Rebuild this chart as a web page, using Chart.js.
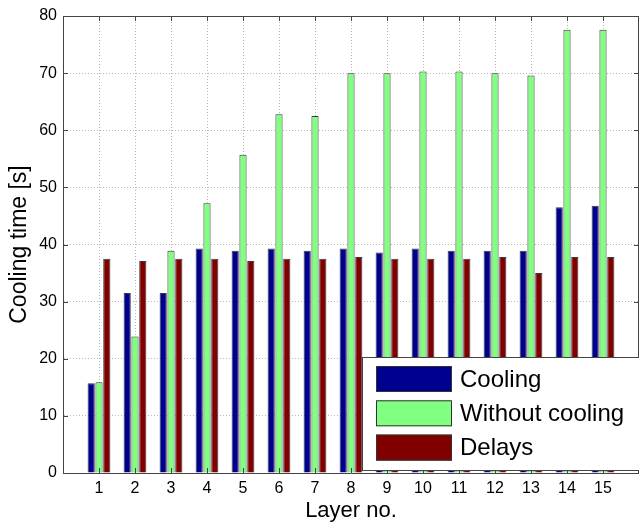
<!DOCTYPE html>
<html>
<head>
<meta charset="utf-8">
<script src="https://cdn.jsdelivr.net/npm/chart.js@4"></script>
<style>
html,body{margin:0;padding:0;background:#fff;overflow:hidden;}
#wrap{width:645px;height:526px;}
</style>
</head>
<body>
<div id="wrap"><canvas id="c" width="645" height="526"></canvas></div>
<script>
const layers = [1, 2, 3, 4, 5, 6, 7, 8, 9, 10, 11, 12, 13, 14, 15];
const cooling = [15.7, 31.5, 31.5, 39.3, 38.9, 39.3, 38.9, 39.3, 38.6, 39.3, 38.9, 38.9, 38.9, 46.5, 46.8];
const withoutCooling = [15.9, 23.9, 38.9, 47.2, 55.7, 62.8, 62.5, 70.0, 70.0, 70.3, 70.3, 70.0, 69.6, 77.6, 77.6];
const delays = [37.5, 37.1, 37.5, 37.5, 37.1, 37.5, 37.5, 37.8, 37.5, 37.5, 37.5, 37.8, 35.0, 37.8, 37.8];
const seriesNames = ['Cooling', 'Without cooling', 'Delays'];
const seriesColors = ['#00008F', '#80FF80', '#800000'];
const yTicks = [0, 10, 20, 30, 40, 50, 60, 70, 80];

const FONT = "'Liberation Sans', Arial, sans-serif";
const AXIS_COLOR = '#444';
const GRID_COLOR = '#b8b8b8';

function pts(vals) { return layers.map((l, i) => ({x: l, y: vals[i]})); }

const frame = {
  id: 'frame',
  afterDatasetsDraw(chart) {
    const {ctx, chartArea: a, scales: {x, y}} = chart;
    ctx.save();
    ctx.strokeStyle = AXIS_COLOR;
    ctx.lineWidth = 1;
    ctx.beginPath();
    ctx.moveTo(a.left, a.top + 0.5); ctx.lineTo(a.right, a.top + 0.5);
    ctx.moveTo(a.right - 0.5, a.top); ctx.lineTo(a.right - 0.5, a.bottom);
    const tl = 5;
    layers.forEach(v => {
      const px = Math.round(x.getPixelForValue(v)) + 0.5;
      ctx.moveTo(px, a.top); ctx.lineTo(px, a.top + tl);
      ctx.moveTo(px, a.bottom); ctx.lineTo(px, a.bottom - tl);
    });
    yTicks.forEach(v => {
      const py = Math.round(y.getPixelForValue(v)) + 0.5;
      ctx.moveTo(a.left, py); ctx.lineTo(a.left + tl, py);
      ctx.moveTo(a.right, py); ctx.lineTo(a.right - tl, py);
    });
    ctx.stroke();
    ctx.restore();
  }
};

const boxLegend = {
  id: 'boxLegend',
  afterDraw(chart, args, o) {
    const ctx = chart.ctx;
    ctx.save();
    ctx.fillStyle = '#fff';
    ctx.fillRect(o.left, o.top, o.width, o.height);
    ctx.strokeStyle = AXIS_COLOR;
    ctx.lineWidth = 1;
    ctx.strokeRect(o.left + 0.5, o.top + 0.5, o.width - 1, o.height - 1);
    ctx.font = o.fontSize + 'px ' + FONT;
    ctx.textBaseline = 'middle';
    ctx.textAlign = 'left';
    chart.data.datasets.forEach((ds, i) => {
      const sy = o.top + o.firstRow + i * o.rowPitch;
      ctx.fillStyle = ds.backgroundColor;
      ctx.fillRect(o.swatchX, sy, o.swatchW, o.swatchH);
      ctx.strokeStyle = '#333';
      ctx.strokeRect(o.swatchX + 0.5, sy + 0.5, o.swatchW - 1, o.swatchH - 1);
      ctx.fillStyle = '#000';
      ctx.fillText(ds.label, o.textX, sy + o.swatchH / 2 + 1);
    });
    ctx.restore();
  }
};

new Chart(document.getElementById('c'), {
  type: 'bar',
  data: {
    datasets: [
      {label: seriesNames[0], data: pts(cooling), backgroundColor: seriesColors[0]},
      {label: seriesNames[1], data: pts(withoutCooling), backgroundColor: seriesColors[1]},
      {label: seriesNames[2], data: pts(delays), backgroundColor: seriesColors[2]}
    ]
  },
  options: {
    responsive: false,
    animation: false,
    devicePixelRatio: 1,
    layout: {padding: {top: 16, right: 3, bottom: 0, left: 0}},
    datasets: {bar: {categoryPercentage: 0.65, barPercentage: 0.92, borderColor: '#3a3a3a', borderWidth: 1}},
    plugins: {
      legend: {display: false},
      tooltip: {enabled: false},
      boxLegend: {left: 362, top: 357, width: 278, height: 114, firstRow: 9, rowPitch: 34.3, swatchX: 376, swatchW: 76, swatchH: 26, textX: 460, fontSize: 24}
    },
    scales: {
      x: {
        type: 'linear',
        offset: false,
        min: 0, max: 16,
        afterFit(s) { s.height = 53; },
        ticks: {
          stepSize: 1,
          autoSkip: false,
          maxRotation: 0,
          padding: 6,
          color: '#000',
          font: {family: FONT, size: 16},
          callback: v => layers.includes(v) ? String(v) : ''
        },
        grid: {
          offset: false,
          drawTicks: false,
          color: c => (c.tick && layers.includes(c.tick.value)) ? GRID_COLOR : 'rgba(0,0,0,0)',
          lineWidth: 1
        },
        border: {display: true, color: AXIS_COLOR, width: 1, dash: [1, 2]},
        title: {display: true, text: 'Layer no.', color: '#000', font: {family: FONT, size: 22}, padding: {top: 0, bottom: 2}}
      },
      y: {
        min: 0, max: 80,
        afterFit(s) { s.width = 63; },
        ticks: {
          stepSize: 10,
          padding: 6,
          color: '#000',
          font: {family: FONT, size: 16}
        },
        grid: {
          drawTicks: false,
          color: c => (c.tick && c.tick.value > 0 && c.tick.value < 80) ? GRID_COLOR : 'rgba(0,0,0,0)',
          lineWidth: 1
        },
        border: {display: true, color: AXIS_COLOR, width: 1, dash: [1, 2]},
        title: {display: true, text: 'Cooling time [s]', color: '#000', font: {family: FONT, size: 23}, padding: {top: 6, bottom: 0}}
      }
    }
  },
  plugins: [frame, boxLegend]
});
</script>
</body>
</html>
